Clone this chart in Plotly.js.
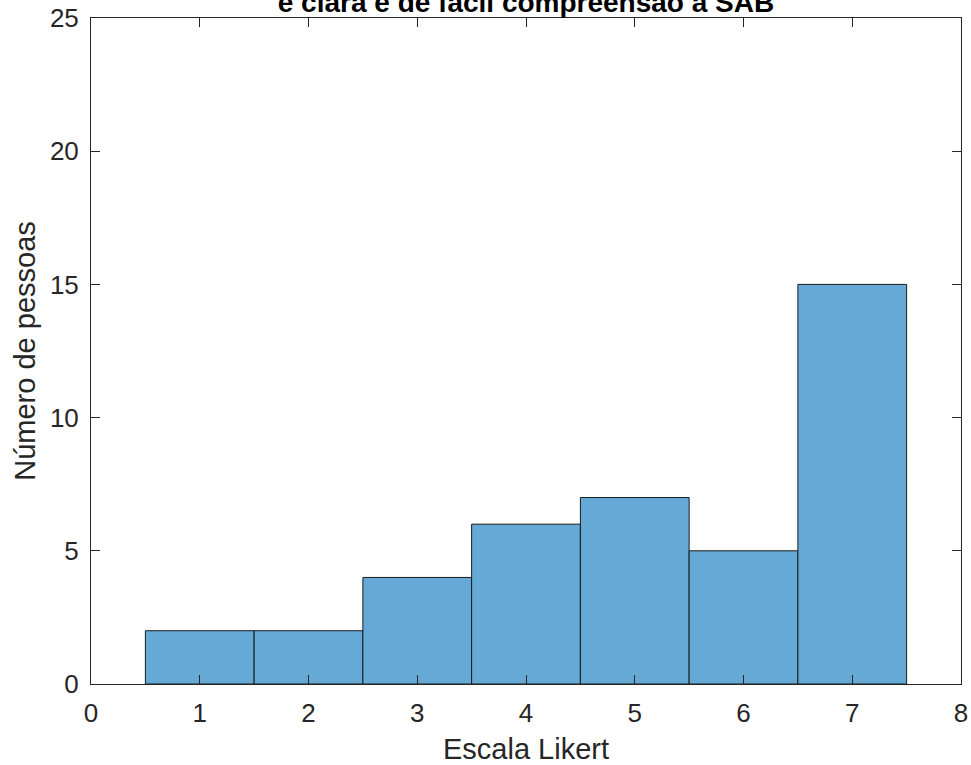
<!DOCTYPE html>
<html>
<head>
<meta charset="utf-8">
<script src="https://cdn.plot.ly/plotly-3.0.1.min.js"></script>
<style>html,body{margin:0;padding:0;background:#fff;}</style>
</head>
<body>
<div id="chart" style="width:971px;height:765px;"></div>
<script>
const categories = [1, 2, 3, 4, 5, 6, 7];
const counts = [2, 2, 4, 6, 7, 5, 15];
const xTicks = [0, 1, 2, 3, 4, 5, 6, 7, 8];
const yTicks = [0, 5, 10, 15, 20, 25];
const titleText = "é clara e de fácil compreensão a SAB";

const FONT = 'Arial, Liberation Sans, sans-serif';

const trace = {
  type: 'bar',
  x: categories,
  y: counts,
  width: 1,
  marker: { color: '#65A9D7', line: { color: '#1a1a1a', width: 1 } },
  hoverinfo: 'x+y'
};

const axisCommon = {
  showline: true, mirror: 'ticks', linecolor: '#262626', linewidth: 1,
  ticks: 'inside', ticklen: 9, tickcolor: '#262626', tickwidth: 1,
  showgrid: false, zeroline: false,
  tickfont: { family: FONT, size: 26, color: '#262626' }
};

const layout = {
  width: 971, height: 765,
  margin: { l: 91, r: 10, t: 18, b: 81 },
  paper_bgcolor: '#fff', plot_bgcolor: '#fff',
  showlegend: false,
  title: {
    text: '<b>' + titleText + '</b>',
    font: { family: FONT, size: 28, color: '#000' },
    xref: 'paper', x: 0.5, xanchor: 'center',
    yref: 'container', y: 1 - 12/765, yanchor: 'bottom'
  },
  xaxis: Object.assign({}, axisCommon, {
    range: [0, 8], tickvals: xTicks, ticktext: xTicks.map(String),
    ticklabelstandoff: 6,
    title: { text: 'Escala Likert', font: { family: FONT, size: 29, color: '#262626' }, standoff: 11 }
  }),
  yaxis: Object.assign({}, axisCommon, {
    range: [0, 25], tickvals: yTicks, ticktext: yTicks.map(String),
    ticklabelstandoff: 6,
    title: { text: 'Número de pessoas', font: { family: FONT, size: 29, color: '#262626' }, standoff: 5 }
  })
};

Plotly.newPlot('chart', [trace], layout, { displayModeBar: false, staticPlot: true });
</script>
</body>
</html>
